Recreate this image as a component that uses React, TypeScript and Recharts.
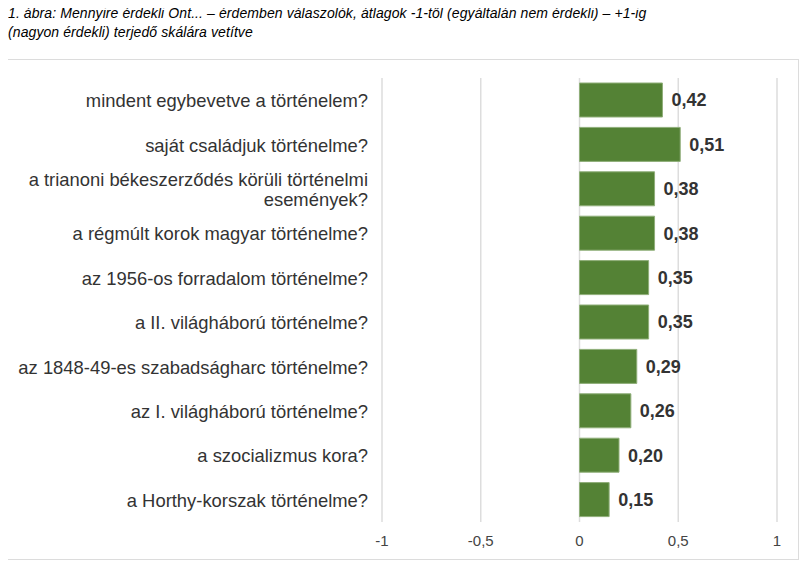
import { BarChart, Bar, XAxis, YAxis, CartesianGrid, LabelList } from 'recharts'

const topics = [
  'mindent egybevetve a történelem?',
  'saját családjuk történelme?',
  'a trianoni békeszerződés körüli történelmi\nesemények?',
  'a régmúlt korok magyar történelme?',
  'az 1956-os forradalom történelme?',
  'a II. világháború történelme?',
  'az 1848-49-es szabadságharc történelme?',
  'az I. világháború történelme?',
  'a szocializmus kora?',
  'a Horthy-korszak történelme?',
]

const averages = [0.42, 0.51, 0.38, 0.38, 0.35, 0.35, 0.29, 0.26, 0.2, 0.15]

const xTicks = [-1, -0.5, 0, 0.5, 1]

const FONT = '"Liberation Sans", Arial, Helvetica, sans-serif'

const fmt = (v: number) => String(v).replace('.', ',')

const chartData = topics.map((topic, i) => ({ topic, value: averages[i] }))

function TopicTick({ x, y, payload }: any) {
  const lines = String(payload.value).split('\n')
  const lineH = 20
  const startY = y - ((lines.length - 1) * lineH) / 2
  return (
    <text
      x={x - 6}
      y={startY}
      textAnchor="end"
      dominantBaseline="central"
      fontSize={18.4}
      fill="#333"
      fontFamily={FONT}
    >
      {lines.map((line, i) => (
        <tspan key={i} x={x - 6} y={startY + i * lineH}>
          {line}
        </tspan>
      ))}
    </text>
  )
}

export default function App() {
  return (
    <div style={{ position: 'relative', width: 795, height: 555, fontFamily: FONT }}>
      <div
        style={{
          position: 'absolute',
          left: 0,
          top: -4,
          fontSize: 14,
          lineHeight: '19px',
          fontStyle: 'italic',
          color: '#000',
          letterSpacing: 0.09,
          whiteSpace: 'nowrap',
        }}
      >
        1. ábra: Mennyire érdekli Önt... – érdemben válaszolók, átlagok -1-től (egyáltalán nem érdekli) – +1-ig
        <br />
        (nagyon érdekli) terjedő skálára vetítve
      </div>
      <div
        style={{
          position: 'absolute',
          left: -2,
          top: 51,
          width: 791,
          height: 499,
          border: '1px solid #dcdcdc',
        }}
      >
        <BarChart
          width={791}
          height={499}
          data={chartData}
          layout="vertical"
          margin={{ top: 18, right: 21, bottom: 0, left: 0 }}
          barCategoryGap={5}
        >
          <CartesianGrid horizontal={false} stroke="#dddddd" strokeWidth={1.5} />
          <XAxis
            type="number"
            domain={[-1, 1]}
            ticks={xTicks}
            tickFormatter={fmt}
            axisLine={false}
            tickLine={false}
            height={37}
            tick={{ fontSize: 15, fill: '#444', fontFamily: FONT }}
            tickMargin={7}
          />
          <YAxis
            type="category"
            dataKey="topic"
            width={375}
            axisLine={false}
            tickLine={false}
            interval={0}
            tick={<TopicTick />}
          />
          <Bar dataKey="value" fill="#548235" stroke="#8fae79" strokeWidth={1} isAnimationActive={false}>
            <LabelList
              dataKey="value"
              position="right"
              offset={9}
              formatter={(v: any) => Number(v).toFixed(2).replace('.', ',')}
              style={{ fontSize: 18, fontWeight: 'bold', fill: '#333', fontFamily: FONT }}
            />
          </Bar>
        </BarChart>
      </div>
    </div>
  )
}
